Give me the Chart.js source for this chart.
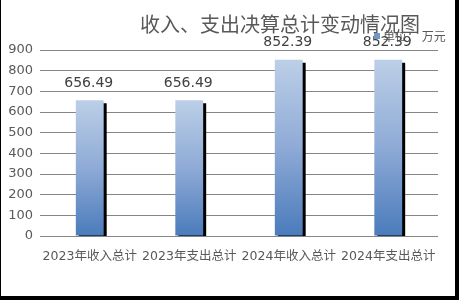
<!DOCTYPE html>
<html lang="zh">
<head>
    <meta charset="UTF-8">
    <title>收入、支出决算总计变动情况图</title>
    <script src="https://cdn.jsdelivr.net/npm/chart.js"></script>
    <style>
        body { margin: 0; background: #fff; }
        .frame {
            width: 459px;
            height: 300px;
            box-sizing: border-box;
            border-left: 1px solid #000;
            border-right: 4px solid #000;
            border-bottom: 4px solid #000;
            background: #fff;
        }
        .frame canvas { display: block; }
    </style>
</head>
<body>
    <div class="frame">
        <canvas id="chart" width="454" height="296"></canvas>
    </div>
    <script>
        // 数据
        var categories = ['2023年收入总计', '2023年支出总计', '2024年收入总计', '2024年支出总计'];
        var amounts = [656.49, 656.49, 852.39, 852.39];
        var yTicks = [0, 100, 200, 300, 400, 500, 600, 700, 800, 900];

        var titleText = '收入、支出决算总计变动情况图';
        var legendText = '单位： 万元';
        var textFont = '"DejaVu Sans", "Noto Sans CJK SC", sans-serif';
        var grey = '#595959';

        // 每根柱子单独的渐变（上浅下深）
        function barGradient(ctx) {
            var chart = ctx.chart;
            var y = chart.scales && chart.scales.y;
            if (!chart.chartArea || !y || ctx.raw === undefined) return '#7a9fd0';
            var top = y.getPixelForValue(ctx.raw);
            var bottom = y.getPixelForValue(0);
            var g = chart.ctx.createLinearGradient(0, top, 0, bottom);
            g.addColorStop(0, '#bccfe7');
            g.addColorStop(0.5, '#8eaad6');
            g.addColorStop(1, '#4a7bbb');
            return g;
        }

        // 阴影、数值标签、标题和图例
        var decorations = {
            id: 'decorations',
            beforeDatasetsDraw: function (chart) {
                var c = chart.ctx;
                c.save();
                c.shadowColor = '#000';
                c.shadowOffsetX = 3;
                c.shadowOffsetY = 3;
                c.shadowBlur = 0;
            },
            afterDatasetsDraw: function (chart) {
                var c = chart.ctx;
                c.restore();
                c.save();
                c.font = '14px ' + textFont;
                c.fillStyle = '#404040';
                c.textAlign = 'center';
                c.textBaseline = 'middle';
                chart.getDatasetMeta(0).data.forEach(function (bar, i) {
                    c.fillText(amounts[i].toFixed(2), bar.x - 1, bar.y - 17);
                });
                c.restore();
            },
            afterDraw: function (chart) {
                var c = chart.ctx;
                c.save();
                c.font = '20px "Noto Sans CJK SC", sans-serif';
                c.fillStyle = grey;
                c.textAlign = 'center';
                c.textBaseline = 'middle';
                c.fillText(titleText, 279, 24);

                c.fillStyle = '#7396c9';
                c.fillRect(373, 33, 6, 6);
                c.font = '12px "Noto Sans CJK SC", sans-serif';
                c.fillStyle = grey;
                c.textAlign = 'left';
                c.fillText(legendText, 382, 36);
                c.restore();
            }
        };

        new Chart(document.getElementById('chart'), {
            type: 'bar',
            data: {
                labels: categories,
                datasets: [{
                    label: legendText,
                    data: amounts,
                    backgroundColor: barGradient,
                    borderWidth: 0,
                    categoryPercentage: 1,
                    barPercentage: 0.28
                }]
            },
            options: {
                responsive: false,
                animation: false,
                devicePixelRatio: 1,
                layout: { padding: { top: 50, right: 17, left: 0, bottom: 0 } },
                plugins: {
                    legend: { display: false },
                    title: { display: false },
                    tooltip: { enabled: false }
                },
                scales: {
                    x: {
                        grid: { display: false },
                        border: { display: false },
                        ticks: {
                            color: grey,
                            font: { size: 12.5, family: textFont },
                            maxRotation: 0,
                            autoSkip: false,
                            padding: 5
                        },
                        afterFit: function (scale) { scale.height = 60; }
                    },
                    y: {
                        min: 0,
                        max: 900,
                        afterBuildTicks: function (scale) {
                            scale.ticks = yTicks.map(function (v) { return { value: v }; });
                        },
                        grid: { color: '#868686', lineWidth: 1, drawTicks: false },
                        border: { display: false },
                        ticks: {
                            color: grey,
                            font: { size: 13, family: textFont },
                            padding: 7
                        },
                        afterFit: function (scale) { scale.width = 39; }
                    }
                }
            },
            plugins: [decorations]
        });
    </script>
</body>
</html>
